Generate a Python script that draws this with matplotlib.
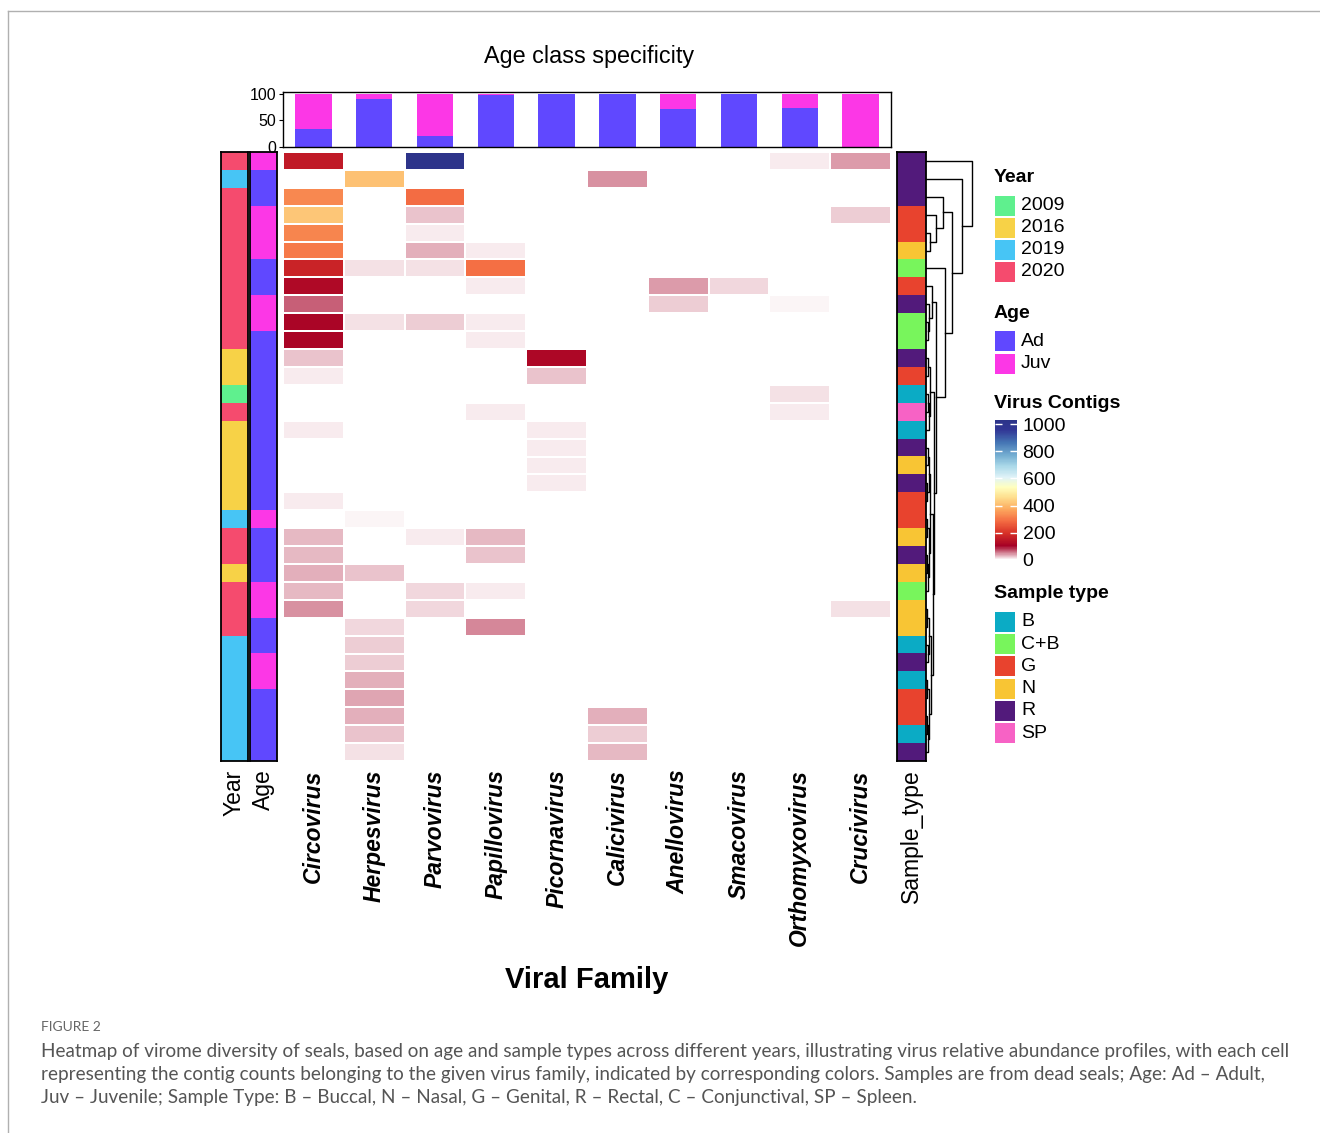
import numpy as np
import matplotlib
matplotlib.use('Agg')
import matplotlib.pyplot as plt
from matplotlib.colors import LinearSegmentedColormap, ListedColormap, Normalize
from matplotlib.patches import Rectangle
from matplotlib.lines import Line2D

plt.rcParams['font.family'] = ['Liberation Sans', 'DejaVu Sans']

# --- datos ---
families = ['Circovirus', 'Herpesvirus', 'Parvovirus', 'Papillovirus', 'Picornavirus',
            'Calicivirus', 'Anellovirus', 'Smacovirus', 'Orthomyxovirus', 'Crucivirus']

# contigs por muestra (34 filas, de arriba a abajo)
circovirus = [150, 0, 320, 410, 315, 300, 165, 120, 65, 110, 112, 25, 8, 0, 0, 8, 0,
              0, 0, 9, 0, 28, 28, 35, 30, 45, 0, 0, 0, 0, 0, 0, 0, 0]
herpesvirus = [0, 400, 0, 0, 0, 0, 12, 0, 0, 13, 0, 0, 0, 0, 0, 0, 0,
               0, 0, 0, 7, 0, 0, 24, 0, 0, 16, 20, 20, 32, 36, 35, 24, 12]
parvovirus = [990, 0, 280, 25, 8, 33, 13, 0, 0, 22, 0, 0, 0, 0, 0, 0, 0,
              0, 0, 0, 0, 8, 0, 0, 16, 18, 0, 0, 0, 0, 0, 0, 0, 0]
papillovirus = [0, 0, 0, 0, 0, 10, 285, 8, 0, 8, 10, 0, 0, 0, 8, 0, 0,
                0, 0, 0, 0, 28, 24, 0, 8, 0, 48, 0, 0, 0, 0, 0, 0, 0]
picornavirus = [0, 0, 0, 0, 0, 0, 0, 0, 0, 0, 0, 115, 25, 0, 0, 10, 9,
                9, 8, 0, 0, 0, 0, 0, 0, 0, 0, 0, 0, 0, 0, 0, 0, 0]
calicivirus = [0, 45, 0, 0, 0, 0, 0, 0, 0, 0, 0, 0, 0, 0, 0, 0, 0,
               0, 0, 0, 0, 0, 0, 0, 0, 0, 0, 0, 0, 0, 0, 35, 20, 28]
anellovirus = [0, 0, 0, 0, 0, 0, 0, 40, 22, 0, 0, 0, 0, 0, 0, 0, 0,
               0, 0, 0, 0, 0, 0, 0, 0, 0, 0, 0, 0, 0, 0, 0, 0, 0]
smacovirus = [0, 0, 0, 0, 0, 0, 0, 18, 0, 0, 0, 0, 0, 0, 0, 0, 0,
              0, 0, 0, 0, 0, 0, 0, 0, 0, 0, 0, 0, 0, 0, 0, 0, 0]
orthomyxovirus = [8, 0, 0, 0, 0, 0, 0, 0, 7, 0, 0, 0, 0, 12, 8, 0, 0,
                  0, 0, 0, 0, 0, 0, 0, 0, 0, 0, 0, 0, 0, 0, 0, 0, 0]
crucivirus = [40, 0, 0, 22, 0, 0, 0, 0, 0, 0, 0, 0, 0, 0, 0, 0, 0,
              0, 0, 0, 0, 0, 0, 0, 0, 12, 0, 0, 0, 0, 0, 0, 0, 0]

year = ['2020', '2019', '2020', '2020', '2020', '2020', '2020', '2020', '2020', '2020',
        '2020', '2016', '2016', '2009', '2020', '2016', '2016', '2016', '2016', '2016',
        '2019', '2020', '2020', '2016', '2020', '2020', '2020', '2019', '2019', '2019',
        '2019', '2019', '2019', '2019']
age = ['Juv', 'Ad', 'Ad', 'Juv', 'Juv', 'Juv', 'Ad', 'Ad', 'Juv', 'Juv',
       'Ad', 'Ad', 'Ad', 'Ad', 'Ad', 'Ad', 'Ad', 'Ad', 'Ad', 'Ad',
       'Juv', 'Ad', 'Ad', 'Ad', 'Juv', 'Juv', 'Ad', 'Ad', 'Juv', 'Juv',
       'Ad', 'Ad', 'Ad', 'Ad']
sample_type = ['R', 'R', 'R', 'G', 'G', 'N', 'C+B', 'G', 'R', 'C+B',
               'C+B', 'R', 'G', 'B', 'SP', 'B', 'R', 'N', 'R', 'G',
               'G', 'N', 'R', 'N', 'C+B', 'N', 'N', 'B', 'R', 'B',
               'G', 'G', 'B', 'R']

# porcentaje Ad / Juv por familia
ad_pct = [33, 90, 20, 97, 99, 99, 71, 99, 73, 0]
juv_pct = [67, 10, 80, 3, 1, 1, 29, 1, 27, 100]

# dendrograma de filas: (izq, der, altura)
tree = (0, (1, ((2, (3, (4, 5, 4), 10), 17),
                (6, ((7, (8, (9, 10, 1.5), 3), 6),
                     (((11, 12, 2), ((13, 14, 1.5), 15, 2.5), 4),
                      ((((16, 17, 1.5), (18, 19, 1), 2.5), ((20, 21, 1), ((22, 23, 1), 24, 2), 3), 4),
                       (((25, 26, 1), (27, 28, 1.5), 3), ((29, 30, 1), ((31, 32, 0.8), 33, 1.5), 2.5), 4.5),
                       6.5), 8), 10), 19), 26), 36), 46)

# --- colores ---
year_levels = ['2009', '2016', '2019', '2020']
year_cols = ['#5FF08E', '#F7D247', '#47C5F5', '#F54B6E']
age_levels = ['Ad', 'Juv']
age_cols = ['#6048FF', '#FC37E6']
st_levels = ['B', 'C+B', 'G', 'N', 'R', 'SP']
st_cols = ['#0BABC5', '#78F55C', '#E8432E', '#F8C534', '#521A7B', '#F762C5']

cmap = LinearSegmentedColormap.from_list('contigs', [
    (0.0, '#ffffff'), (0.10, '#a50026'), (0.19, '#d73027'), (0.28, '#f46d43'),
    (0.37, '#fdae61'), (0.45, '#fee090'), (0.52, '#ffffbf'), (0.59, '#e0f3f8'),
    (0.67, '#abd9e9'), (0.75, '#74add1'), (0.84, '#4575b4'), (0.93, '#313695'),
    (1.0, '#2c3489')])
norm = Normalize(0, 1000)

W, H = 1320, 1133


def rect(x0, y0, x1, y1):
    return [x0 / W, 1 - y1 / H, (x1 - x0) / W, (y1 - y0) / H]


fig = plt.figure(figsize=(W / 100, H / 100), dpi=100)

# marco de la pagina
fig.add_artist(Line2D([8 / W, 1], [1 - 11 / H, 1 - 11 / H], color='#b0b0b0', lw=1))
fig.add_artist(Line2D([8 / W, 8 / W], [0, 1 - 11 / H], color='#b0b0b0', lw=1))

counts = np.column_stack([circovirus, herpesvirus, parvovirus, papillovirus, picornavirus,
                          calicivirus, anellovirus, smacovirus, orthomyxovirus, crucivirus])
n_rows = counts.shape[0]

# --- heatmap ---
ax = fig.add_axes(rect(283, 152, 891, 761))
ax.pcolormesh(np.arange(11) - 0.5, np.arange(n_rows + 1) - 0.5, counts, cmap=cmap, norm=norm,
              edgecolors='white', linewidth=1.2)
ax.set_xlim(-0.5, 9.5)
ax.set_ylim(n_rows - 0.5, -0.5)
ax.set_yticks([])
ax.set_xticks(range(10))
ax.set_xticklabels(families, rotation=90, fontsize=16.5, fontweight='bold', fontstyle='italic')
ax.tick_params(axis='x', length=0, pad=6)
for s in ax.spines.values():
    s.set_visible(False)


def annot(x0, x1, values, levels, cols, label):
    a = fig.add_axes(rect(x0, 152, x1, 761))
    codes = np.array([levels.index(v) for v in values])[:, None]
    a.imshow(codes, cmap=ListedColormap(cols), vmin=-0.5, vmax=len(levels) - 0.5,
             aspect='auto', interpolation='nearest')
    a.set_yticks([])
    a.set_xticks([0])
    a.set_xticklabels([label], rotation=90, fontsize=16.5)
    a.tick_params(axis='x', length=0, pad=6)
    for s in a.spines.values():
        s.set_linewidth(1.3)
    return a


annot(221, 248, year, year_levels, year_cols, 'Year')
annot(250, 277, age, age_levels, age_cols, 'Age')
annot(897, 926, sample_type, st_levels, st_cols, 'Sample_type')

# --- dendrograma ---
axd = fig.add_axes(rect(926, 152, 985, 761))


def draw_tree(node):
    if isinstance(node, int):
        return node, 0.0
    left, right, h = node
    y1, h1 = draw_tree(left)
    y2, h2 = draw_tree(right)
    axd.plot([h1, h, h, h2], [y1, y1, y2, y2], color='black', lw=1)
    return (y1 + y2) / 2, h


draw_tree(tree)
axd.set_xlim(0, 59)
axd.set_ylim(n_rows - 0.5, -0.5)
axd.axis('off')

# --- barras superiores ---
axb = fig.add_axes(rect(283, 92, 891, 147))
xb = np.arange(10)
axb.bar(xb, ad_pct, width=0.6, color=age_cols[0])
axb.bar(xb, juv_pct, width=0.6, bottom=ad_pct, color=age_cols[1])
axb.set_xlim(-0.5, 9.5)
axb.set_ylim(0, 103)
axb.set_xticks([])
axb.set_yticks([0, 50, 100])
axb.tick_params(axis='y', labelsize=11.5, length=3, pad=2)
for s in axb.spines.values():
    s.set_linewidth(1)

fig.text(589 / W, 1 - 57 / H, 'Age class specificity', fontsize=16.8, ha='center', va='center')
fig.text(587 / W, 1 - 980 / H, 'Viral Family', fontsize=21, fontweight='bold', ha='center', va='center')

# --- leyendas ---
axl = fig.add_axes(rect(985, 150, 1160, 760))
axl.set_xlim(985, 1160)
axl.set_ylim(760, 150)
axl.axis('off')


def legend_block(title, y_title, y_first, step, levels, cols):
    axl.text(994, y_title, title, fontsize=14, fontweight='bold', va='center', ha='left')
    for i, (lv, c) in enumerate(zip(levels, cols)):
        yc = y_first + i * step
        axl.add_patch(Rectangle((995, yc - 10), 20, 20, color=c, lw=0))
        axl.text(1021, yc, lv, fontsize=14, va='center', ha='left')


legend_block('Year', 177, 206, 22, year_levels, year_cols)
legend_block('Age', 313, 341, 23, age_levels, age_cols)
axl.text(994, 404, 'Virus Contigs', fontsize=14, fontweight='bold', va='center', ha='left')
legend_block('Sample type', 594, 622, 22.2, st_levels, st_cols)

# barra de color
cax = fig.add_axes(rect(995, 420, 1017, 560))
cb = fig.colorbar(plt.cm.ScalarMappable(norm=Normalize(0, 1030), cmap=cmap), cax=cax,
                  ticks=[0, 200, 400, 600, 800, 1000])
cb.outline.set_visible(False)
cax.tick_params(left=True, right=True, labelleft=False, labelright=True, direction='in',
                color='white', length=5, width=1, labelsize=14, pad=4)

# --- pie de figura ---
fig.text(41 / W, 1 - 1027 / H, 'FIGURE 2', fontsize=10, color='#666666', va='center', ha='left',
         family=['Lato', 'DejaVu Sans'])
caption = [
    'Heatmap of virome diversity of seals, based on age and sample types across different years, '
    'illustrating virus relative abundance profiles, with each cell',
    'representing the contig counts belonging to the given virus family, indicated by corresponding '
    'colors. Samples are from dead seals; Age: Ad \u2013 Adult,',
    'Juv \u2013 Juvenile; Sample Type: B \u2013 Buccal, N \u2013 Nasal, G \u2013 Genital, R \u2013 Rectal, '
    'C \u2013 Conjunctival, SP \u2013 Spleen.',
]
for i, line in enumerate(caption):
    fig.text(41 / W, 1 - (1051 + i * 23.5) / H, line, fontsize=13.6, color='#555555', va='center',
             ha='left', family=['Lato', 'DejaVu Sans'])

fig.savefig('out.png', dpi=100)
